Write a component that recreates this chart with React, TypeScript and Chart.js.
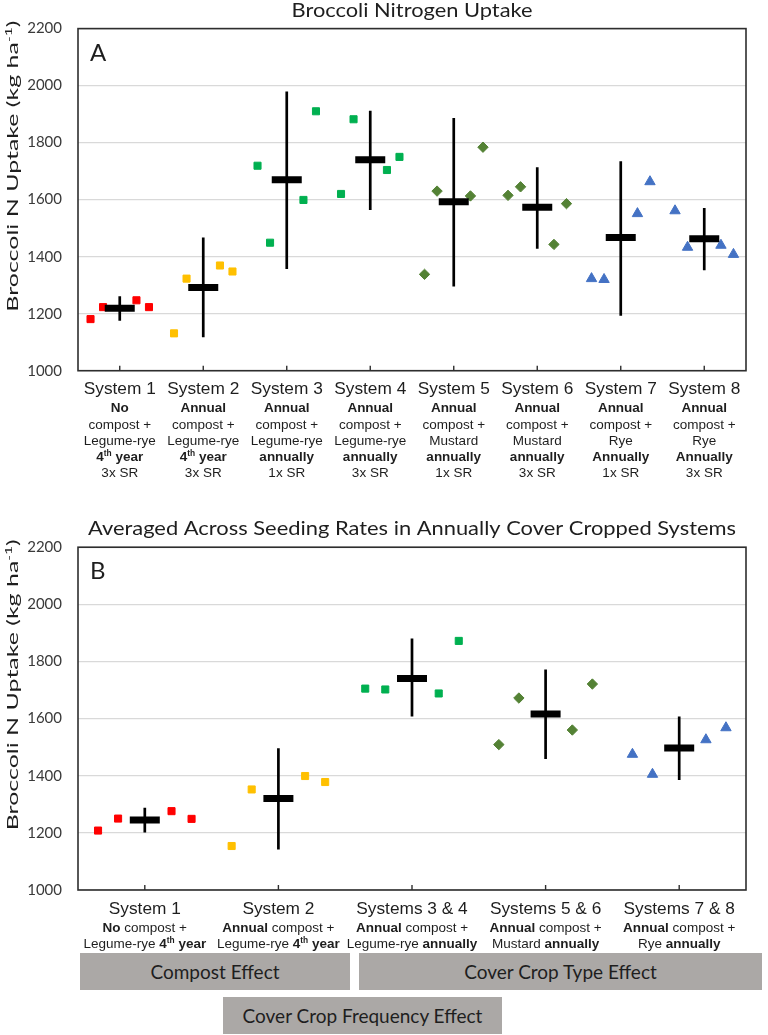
import React, { useEffect, useRef } from "react";
import { Chart, registerables } from "chart.js";

Chart.register(...registerables);

// ---------------- DATA ----------------
// Panel A: individual plot values per system (4 replicates), means, error-bar limits
const A_SYS1 = [1181, 1223, 1247, 1223];
const A_SYS2 = [1131, 1323, 1369, 1348];
const A_SYS3 = [1719, 1449, 1599, 1910];
const A_SYS4 = [1620, 1882, 1704, 1750];
const A_SYS5 = [1338, 1630, 1613, 1784];
const A_SYS6 = [1615, 1645, 1443, 1586];
const A_SYS7 = [1323, 1320, 1551, 1663];
const A_SYS8 = [1561, 1433, 1440, 1408];
const A_MEAN = [1219, 1292, 1670, 1740, 1593, 1573, 1467, 1463];
const A_LOW = [1175, 1117, 1357, 1564, 1295, 1428, 1193, 1352];
const A_HIGH = [1261, 1467, 1979, 1912, 1886, 1714, 1735, 1571];
const A_LABELS: string[][] = [
  ["System 1", "*No*", "compost +", "Legume-rye", "*4^th^ year*", "3x SR"],
  ["System 2", "*Annual*", "compost +", "Legume-rye", "*4^th^ year*", "3x SR"],
  ["System 3", "*Annual*", "compost +", "Legume-rye", "*annually*", "1x SR"],
  ["System 4", "*Annual*", "compost +", "Legume-rye", "*annually*", "3x SR"],
  ["System 5", "*Annual*", "compost +", "Mustard", "*annually*", "1x SR"],
  ["System 6", "*Annual*", "compost +", "Mustard", "*annually*", "3x SR"],
  ["System 7", "*Annual*", "compost +", "Rye", "*Annually*", "1x SR"],
  ["System 8", "*Annual*", "compost +", "Rye", "*Annually*", "3x SR"],
];

// Panel B: averaged across seeding rates
const B_SYS1 = [1208, 1250, 1276, 1249];
const B_SYS2 = [1154, 1352, 1399, 1378];
const B_SYS34 = [1705, 1702, 1688, 1872];
const B_SYS56 = [1509, 1672, 1560, 1721];
const B_SYS78 = [1475, 1405, 1526, 1568];
const B_MEAN = [1245, 1320, 1740, 1616, 1497];
const B_LOW = [1201, 1142, 1607, 1459, 1385];
const B_HIGH = [1288, 1496, 1880, 1772, 1607];
const B_LABELS: string[][] = [
  ["System 1", "*No* compost +", "Legume-rye *4^th^ year*"],
  ["System 2", "*Annual* compost +", "Legume-rye *4^th^ year*"],
  ["Systems 3 & 4", "*Annual* compost +", "Legume-rye *annually*"],
  ["Systems 5 & 6", "*Annual* compost +", "Mustard *annually*"],
  ["Systems 7 & 8", "*Annual* compost +", "Rye *annually*"],
];

// replicate spread around each category (x offsets of the 4 plots)
const JITTER = [-0.35, -0.2, 0.2, 0.35];

const Y_MIN = 1000;
const Y_MAX = 2200;
const Y_STEP = 200;

const TITLE_A = "Broccoli Nitrogen Uptake";
const TITLE_B = "Averaged Across Seeding Rates in Annually Cover Cropped Systems";
const Y_TITLE = "Broccoli N Uptake (kg ha^-1^)";
const EFFECT_LABELS = ["Compost Effect", "Cover Crop Type Effect", "Cover Crop Frequency Effect"];

// ---------------- STYLE ----------------
type Kind = "red" | "yellow" | "green" | "diamond" | "tri";
const A_KIND: Kind[] = ["red", "yellow", "green", "green", "diamond", "diamond", "tri", "tri"];
const B_KIND: Kind[] = ["red", "yellow", "green", "diamond", "tri"];
const MARK: Record<Kind, { shape: string; color: string; r: number }> = {
  red: { shape: "rect", color: "#FF0000", r: 5 },
  yellow: { shape: "rect", color: "#FFC000", r: 5 },
  green: { shape: "rect", color: "#00B050", r: 5 },
  diamond: { shape: "rectRot", color: "#548235", r: 5.2 },
  tri: { shape: "triangle", color: "#4472C4", r: 6 },
};

const FONT_UI = "Lato, 'Open Sans', sans-serif";
const FONT_AX = "'Liberation Sans', Arial, sans-serif";
const INK = "#1e1e1e";
const FRAME = "#2e2e2e";
const X_LINE_OFFSETS = [23.5, 41.5, 58, 74, 90, 106];

type Seg = { t: string; b: boolean; sup: boolean };
function parseMarkup(s: string): Seg[] {
  const segs: Seg[] = [];
  let b = false, sup = false, cur = "";
  const push = () => { if (cur) { segs.push({ t: cur, b, sup }); cur = ""; } };
  for (const ch of s) {
    if (ch === "*") { push(); b = !b; }
    else if (ch === "^") { push(); sup = !sup; }
    else cur += ch;
  }
  push();
  return segs;
}

function drawRich(
  ctx: CanvasRenderingContext2D, markup: string, x: number, y: number,
  o: { size: number; family: string; color: string; align?: string; width?: number; rotate?: number }
) {
  const segs = parseMarkup(markup);
  const font = (s: Seg) => `${s.b ? "bold " : ""}${s.sup ? o.size * 0.62 : o.size}px ${o.family}`;
  const ws = segs.map((s) => { ctx.font = font(s); return ctx.measureText(s.t).width; });
  const total = ws.reduce((a, b) => a + b, 0);
  const sx = o.width ? o.width / total : 1;
  ctx.save();
  ctx.translate(x, y);
  if (o.rotate) ctx.rotate(o.rotate);
  ctx.scale(sx, 1);
  ctx.fillStyle = o.color;
  ctx.textAlign = "left";
  ctx.textBaseline = "alphabetic";
  let cx = o.align === "left" ? 0 : o.align === "right" ? -total : -total / 2;
  segs.forEach((s, i) => {
    ctx.font = font(s);
    ctx.fillText(s.t, cx, s.sup ? -o.size * 0.36 : 0);
    cx += ws[i];
  });
  ctx.restore();
}

const decor = {
  id: "decor",
  afterDraw(chart: any, _args: any, opts: any) {
    const { ctx, chartArea: ca } = chart;
    const xs = chart.scales.x;
    ctx.save();
    ctx.strokeStyle = FRAME;
    ctx.lineWidth = 1.6;
    ctx.strokeRect(ca.left, ca.top, ca.right - ca.left, ca.bottom - ca.top);
    ctx.lineWidth = 1.4;
    opts.labels.forEach((_: any, i: number) => {
      const px = xs.getPixelForValue(i + 1);
      ctx.beginPath();
      ctx.moveTo(px, ca.bottom);
      ctx.lineTo(px, ca.bottom - 5);
      ctx.stroke();
    });
    ctx.restore();
    drawRich(ctx, opts.title, (ca.left + ca.right) / 2, opts.titleBaseline,
      { size: 20, family: FONT_UI, color: INK, width: opts.titleWidth });
    drawRich(ctx, opts.letter, ca.left + 12, ca.top + 32,
      { size: 24, family: FONT_UI, color: INK, align: "left" });
    drawRich(ctx, Y_TITLE, 17.5, ca.top + 137.6,
      { size: 16, family: FONT_UI, color: INK, rotate: -Math.PI / 2, width: 291 });
    opts.labels.forEach((lines: string[], i: number) => {
      const px = xs.getPixelForValue(i + 1);
      lines.forEach((ln, k) =>
        drawRich(ctx, ln, px, ca.bottom + X_LINE_OFFSETS[k],
          { size: k === 0 ? 17.3 : 13.5, family: FONT_AX, color: INK }));
    });
  },
};

function buildConfig(
  groups: number[][], kinds: Kind[], mean: number[], low: number[], high: number[],
  labels: string[][], height: number, plotTop: number, plotBottom: number,
  title: string, titleBaseline: number, titleWidth: number, letter: string
): any {
  const datasets: any[] = [];
  datasets.push({
    type: "scatter",
    data: mean.map((m, i) => ({ x: i + 1, y: m })),
    pointStyle: "line",
    pointRadius: 15,
    pointBorderWidth: 7,
    borderColor: "#000",
    backgroundColor: "#000",
    order: 0,
  });
  low.forEach((l, i) => {
    datasets.push({
      type: "scatter",
      showLine: true,
      data: [{ x: i + 1, y: l }, { x: i + 1, y: high[i] }],
      borderColor: "#000",
      borderWidth: 2.7,
      pointRadius: 0,
      order: 1,
    });
  });
  groups.forEach((vals, i) => {
    const m = MARK[kinds[i]];
    datasets.push({
      type: "scatter",
      data: vals.map((v, j) => ({ x: i + 1 + JITTER[j], y: v })),
      pointStyle: m.shape,
      pointRadius: m.r,
      pointBorderWidth: 1,
      backgroundColor: m.color,
      borderColor: m.color,
      order: 2,
    });
  });
  return {
    type: "scatter",
    data: { datasets },
    plugins: [decor],
    options: {
      responsive: false,
      animation: false,
      events: [],
      layout: { padding: { top: plotTop, right: 3, left: 0, bottom: 0 } },
      plugins: {
        legend: { display: false },
        tooltip: { enabled: false },
        title: { display: false },
        decor: { labels, title, titleBaseline, titleWidth, letter },
      },
      scales: {
        x: {
          type: "linear",
          min: 0.5,
          max: labels.length + 0.5,
          grid: { display: false },
          border: { display: false },
          ticks: { display: false },
          afterFit: (s: any) => { s.height = height - plotBottom; },
        },
        y: {
          type: "linear",
          min: Y_MIN,
          max: Y_MAX,
          grid: { color: "#d9d9d9", lineWidth: 1.3, drawTicks: false },
          border: { display: false },
          ticks: {
            stepSize: Y_STEP,
            padding: 16,
            color: "#3a3a3a",
            font: { family: FONT_UI, size: 15 },
            callback: (v: any) => String(v),
          },
          afterFit: (s: any) => { s.width = 78; },
        },
      },
    },
  };
}

const H_A = 485;
const H_B = 550;
const BOXES = [
  { left: 80, top: 953, width: 270, height: 37 },
  { left: 359, top: 953, width: 403, height: 37 },
  { left: 223, top: 997, width: 279, height: 37 },
];

export default function App() {
  const refA = useRef<HTMLCanvasElement>(null);
  const refB = useRef<HTMLCanvasElement>(null);
  useEffect(() => {
    const a = new Chart(refA.current as HTMLCanvasElement, buildConfig(
      [A_SYS1, A_SYS2, A_SYS3, A_SYS4, A_SYS5, A_SYS6, A_SYS7, A_SYS8], A_KIND,
      A_MEAN, A_LOW, A_HIGH, A_LABELS, H_A, 28.6, 370.7, TITLE_A, 16.7, 241, "A"));
    const b = new Chart(refB.current as HTMLCanvasElement, buildConfig(
      [B_SYS1, B_SYS2, B_SYS34, B_SYS56, B_SYS78], B_KIND,
      B_MEAN, B_LOW, B_HIGH, B_LABELS, H_B, 62.2, 405, TITLE_B, 50, 648, "B"));
    return () => { a.destroy(); b.destroy(); };
  }, []);
  return (
    <div style={{ position: "absolute", left: 0, top: 0, width: 768, height: 1035, background: "#fff", overflow: "hidden" }}>
      <canvas ref={refA} width={768} height={H_A} style={{ position: "absolute", left: 0, top: 0, width: 768, height: H_A }} />
      <canvas ref={refB} width={768} height={H_B} style={{ position: "absolute", left: 0, top: H_A, width: 768, height: H_B }} />
      {BOXES.map((bx, i) => (
        <div key={i} style={{
          position: "absolute", left: bx.left, top: bx.top, width: bx.width, height: bx.height,
          background: "#aba8a6", display: "flex", alignItems: "center", justifyContent: "center",
          fontFamily: FONT_UI, fontSize: 19, color: INK,
        }}>{EFFECT_LABELS[i]}</div>
      ))}
    </div>
  );
}
